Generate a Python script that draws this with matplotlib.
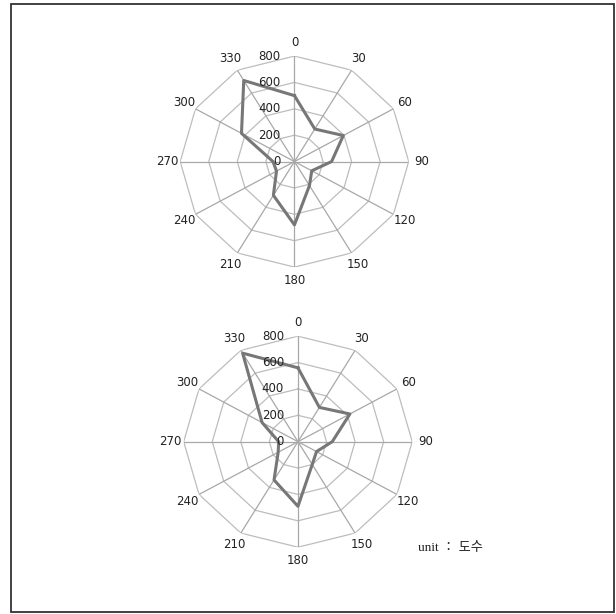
import numpy as np
import matplotlib
matplotlib.use('Agg')
import matplotlib.pyplot as plt
from matplotlib.patches import Rectangle
from matplotlib.transforms import offset_copy

# direction (degrees) and counts
directions = [0, 30, 60, 90, 120, 150, 180, 210, 240, 270, 300, 330]
top_values = [500, 285, 395, 260, 140, 210, 480, 295, 145, 150, 428, 710]
bottom_values = [560, 300, 420, 240, 150, 200, 490, 335, 160, 135, 290, 775]
rings = [200, 400, 600, 800]
ring_labels = ['0', '200', '400', '600', '800']

fig = plt.figure(figsize=(6.16, 6.14), dpi=100)
fig.patch.set_facecolor('white')

theta = np.deg2rad(directions)
theta_closed = np.append(theta, theta[0])


def radar(ax, values):
    ax.set_aspect('auto')
    ax.set_theta_zero_location('N')
    ax.set_theta_direction(-1)
    ax.set_ylim(0, 800)
    ax.grid(False)
    ax.spines['polar'].set_visible(False)
    ax.set_yticks([])
    ax.set_xticks(theta)
    ax.set_xticklabels([str(d) for d in directions], fontsize=8.5, color='#222222')
    ax.tick_params(axis='x', pad=-1)

    # polygon rings and spokes
    for r in rings:
        ax.plot(theta_closed, [r] * len(theta_closed), color='#bdbdbd', lw=0.9, zorder=1)
    for t in theta:
        ax.plot([t, t], [0, 800], color='#a8a8a8', lw=0.9, zorder=1)

    vals = np.append(values, values[0])
    ax.plot(theta_closed, vals, color='#777777', lw=2.2, zorder=3)

    # value labels left of the 0 spoke
    tr = offset_copy(ax.transData, fig=fig, x=-10, y=0, units='points')
    for i, lab in enumerate(ring_labels):
        ax.text(0, i * 200, lab, transform=tr, ha='right', va='center',
                fontsize=8.5, color='#222222', zorder=4)


ax1 = fig.add_axes([0.2925, 0.565, 0.371, 0.3437], projection='polar')
radar(ax1, top_values)

ax2 = fig.add_axes([0.2982, 0.1088, 0.371, 0.3437], projection='polar')
radar(ax2, bottom_values)

fig.text(418 / 616, 1 - 548 / 614, 'unit ： 도수', ha='left', va='center',
         fontsize=9.5, family=['Liberation Serif', 'Noto Sans CJK KR'], color='#222222')

# outer frame
fig.patches.append(Rectangle((0.0178, 0.0033), 0.9797, 0.9902, transform=fig.transFigure,
                             fill=False, edgecolor='#333333', lw=1.3))

fig.savefig('out.png', dpi=100)
